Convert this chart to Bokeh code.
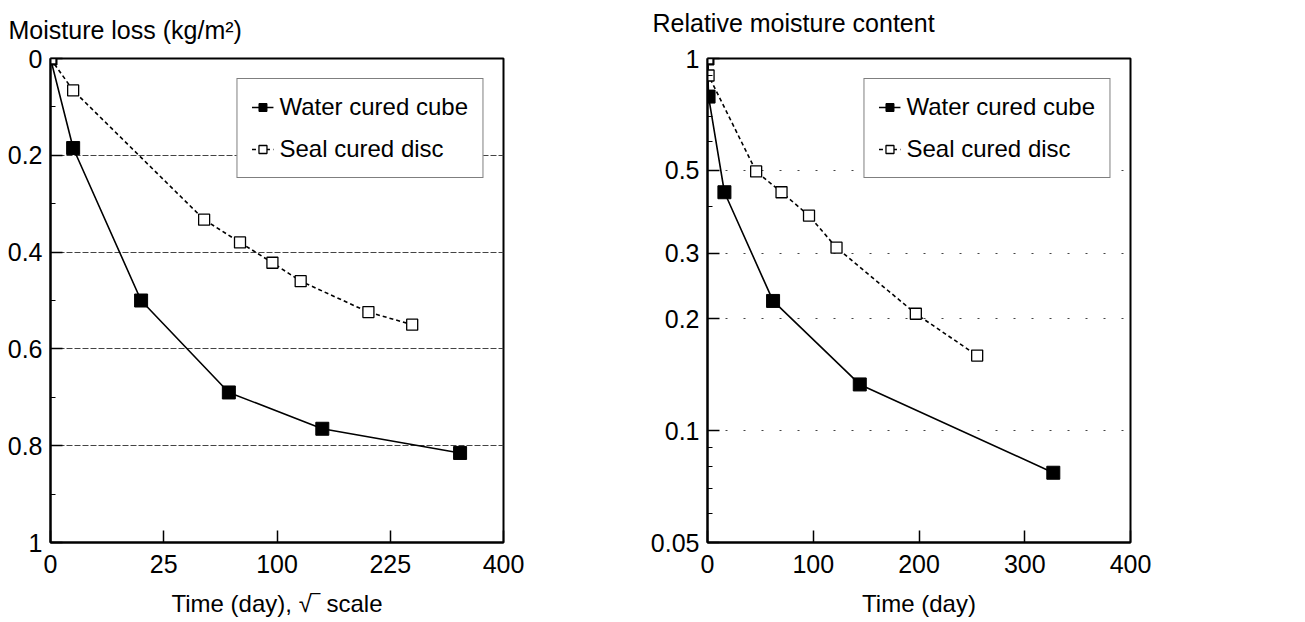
import numpy as np
from bokeh.plotting import figure
from bokeh.models import Range1d, FixedTicker, Legend, LegendItem, Title
from bokeh.layouts import row
from bokeh.embed import file_html
from bokeh.resources import INLINE

FONT = "Liberation Sans"

# ---- data ----
cube_days = [0, 1, 16, 62, 144, 327]
cube_loss = [0, 0.185, 0.50, 0.69, 0.765, 0.815]
cube_rel = [1.0, 0.79, 0.437, 0.223, 0.133, 0.077]

disc_days = [0, 1, 46, 70, 96, 122, 197, 255]
disc_loss = [0, 0.066, 0.333, 0.38, 0.422, 0.46, 0.524, 0.55]
disc_rel = [1.0, 0.9, 0.497, 0.437, 0.378, 0.31, 0.206, 0.159]

left_x_ticks = [0, 25, 100, 225, 400]
left_y_ticks = [0, 0.2, 0.4, 0.6, 0.8, 1.0]
right_x_ticks = [0, 100, 200, 300, 400]
right_y_ticks = [0.05, 0.1, 0.2, 0.3, 0.5, 1.0]
right_y_minor = [0.06, 0.07, 0.08, 0.09, 0.4, 0.6, 0.7, 0.8, 0.9]

labels = ["Water cured cube", "Seal cured disc"]
titles = ["Moisture loss (kg/m²)", "Relative moisture content"]


def style(p):
    p.outline_line_color = "black"
    p.outline_line_width = 2
    p.background_fill_color = "white"
    p.border_fill_color = "white"
    for ax in (p.xaxis[0], p.yaxis[0]):
        ax.axis_line_color = "black"
        ax.axis_line_width = 2
        ax.major_tick_line_color = "black"
        ax.major_tick_line_width = 1.5
        ax.major_tick_out = 0
        ax.major_tick_in = 12
        ax.minor_tick_line_color = "black"
        ax.minor_tick_out = 0
        ax.minor_tick_in = 5
        ax.major_label_text_font = FONT
        ax.major_label_text_font_size = "25px"
        ax.major_label_text_color = "black"
        ax.axis_label_text_font = FONT
        ax.axis_label_text_font_size = "24px"
        ax.axis_label_text_font_style = "normal"
        ax.axis_label_text_color = "black"
    p.xaxis.major_label_standoff = 12
    p.yaxis.major_label_standoff = 8
    p.xaxis.axis_label_standoff = 14
    p.xaxis.minor_tick_line_color = None
    p.xgrid.visible = False


def add_title(p, text, offset, gap):
    # a tiny blank title keeps a gap between the frame and the real title
    p.add_layout(Title(text=" ", text_font_size="2px", standoff=gap), "above")
    p.add_layout(Title(text=text, align="left", offset=offset, standoff=0,
                       text_font=FONT, text_font_size="25px", text_font_style="normal",
                       text_color="black"), "above")


def add_legend(p, items):
    leg = Legend(items=items, location="top_right", margin=20,
                 border_line_color="black", border_line_width=1.5,
                 background_fill_color="white", background_fill_alpha=1,
                 label_text_font=FONT, label_text_font_size="24px",
                 label_text_color="black", glyph_width=22, glyph_height=20,
                 padding=14, spacing=14, label_standoff=6)
    p.add_layout(leg)


# ---- left: moisture loss vs sqrt(time) ----
p1 = figure(width=645, height=622, x_range=Range1d(0, 20), y_range=Range1d(1, 0),
            output_backend="svg", toolbar_location=None,
            min_border_left=50, min_border_right=142, min_border_top=58, min_border_bottom=77,
            x_axis_label="Time (day), √‾ scale")
style(p1)
add_title(p1, titles[0], -42, 11)
p1.xaxis.ticker = FixedTicker(ticks=[float(np.sqrt(t)) for t in left_x_ticks])
p1.xaxis.major_label_overrides = {float(np.sqrt(t)): str(t) for t in left_x_ticks}
p1.yaxis.ticker = FixedTicker(ticks=left_y_ticks, minor_ticks=[0.1, 0.3, 0.5, 0.7, 0.9])
p1.yaxis.major_label_overrides = {0: "0", 1: "1"}
p1.ygrid.grid_line_color = "#444444"
p1.ygrid.grid_line_dash = "6 2"
p1.ygrid.grid_line_width = 1

cx = np.sqrt(np.array(cube_days, dtype=float))
dx = np.sqrt(np.array(disc_days, dtype=float))
l1 = p1.line(cx, cube_loss, line_color="black", line_width=1.6)
s1 = p1.scatter(cx, cube_loss, marker="square", size=13, fill_color="black", line_color="black")
l2 = p1.line(dx, disc_loss, line_color="black", line_width=1.6, line_dash="4 3")
s2 = p1.scatter(dx, disc_loss, marker="square", size=11, fill_color="white", line_color="black",
                line_width=1.3)
add_legend(p1, [LegendItem(label=labels[0], renderers=[l1, s1]),
                LegendItem(label=labels[1], renderers=[l2, s2])])

# ---- right: relative moisture content vs time (log y) ----
p2 = figure(width=660, height=622, x_range=Range1d(0, 400), y_range=Range1d(0.05, 1),
            y_axis_type="log", output_backend="svg", toolbar_location=None,
            min_border_left=62, min_border_right=175, min_border_top=53, min_border_bottom=80,
            x_axis_label="Time (day)")
style(p2)
add_title(p2, titles[1], -55, 18)
p2.xaxis.ticker = FixedTicker(ticks=right_x_ticks)
p2.yaxis.ticker = FixedTicker(ticks=right_y_ticks, minor_ticks=right_y_minor)
p2.yaxis.major_label_overrides = {0.05: "0.05", 0.1: "0.1", 0.2: "0.2", 0.3: "0.3",
                                  0.5: "0.5", 1.0: "1"}
p2.ygrid.grid_line_color = "#444444"
p2.ygrid.grid_line_dash = "2 16"
p2.ygrid.grid_line_width = 1

m1 = p2.line(cube_days, cube_rel, line_color="black", line_width=1.6)
n1 = p2.scatter(cube_days, cube_rel, marker="square", size=13, fill_color="black", line_color="black")
m2 = p2.line(disc_days, disc_rel, line_color="black", line_width=1.6, line_dash="4 3")
n2 = p2.scatter(disc_days, disc_rel, marker="square", size=11, fill_color="white", line_color="black",
                line_width=1.3)
add_legend(p2, [LegendItem(label=labels[0], renderers=[m1, n1]),
                LegendItem(label=labels[1], renderers=[m2, n2])])

layout = row(p1, p2)
open("out.html", "w").write(file_html(layout, INLINE))
